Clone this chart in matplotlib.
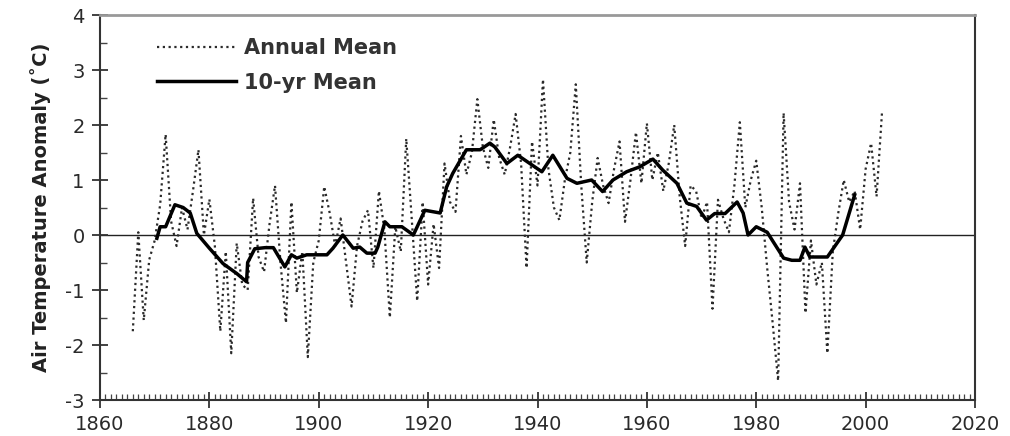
import numpy as np
import matplotlib
matplotlib.use('Agg')
import matplotlib.pyplot as plt
from matplotlib.ticker import MultipleLocator


# Annual mean air temperature anomaly (deg C)
years = list(range(1866, 2004))
annual_mean = [
    -1.75, 0.05, -1.55, -0.45, -0.1, 0.55, 1.83, 0.25, -0.2, 0.5,      # 1866-1875
    0.1, 0.8, 1.55, 0.0, 0.65, -0.2, -1.75, -0.3, -2.15, -0.15,         # 1876-1885
    -0.9, -1.0, 0.67, -0.4, -0.67, 0.2, 0.9, -0.5, -1.6, 0.6,           # 1886-1895
    -1.05, -0.3, -2.22, -0.5, -0.1, 0.88, 0.4, -0.2, 0.3, -0.5,         # 1896-1905
    -1.3, -0.2, 0.25, 0.45, -0.6, 0.8, 0.1, -1.5, 0.15, -0.3,           # 1906-1915
    1.75, 0.3, -1.2, 0.6, -0.9, 0.2, -0.6, 1.3, 0.6, 0.42,              # 1916-1925
    1.8, 1.1, 1.5, 2.47, 1.6, 1.22, 2.1, 1.4, 1.1, 1.6,                 # 1926-1935
    2.2, 1.3, -0.6, 1.7, 0.9, 2.83, 1.2, 0.5, 0.27, 1.0,                # 1936-1945
    1.5, 2.74, 0.9, -0.5, 0.6, 1.4, 0.9, 0.58, 1.2, 1.7,                # 1946-1955
    0.24, 1.0, 1.87, 0.94, 2.03, 1.0, 1.5, 0.8, 1.3, 2.0,               # 1956-1965
    0.7, -0.2, 0.9, 0.8, 0.3, 0.6, -1.34, 0.64, 0.3, 0.05,              # 1966-1975
    0.9, 2.05, 0.5, 1.0, 1.35, 0.5, -0.6, -1.6, -2.65, 2.22,            # 1976-1985
    0.6, 0.1, 0.94, -1.42, -0.1, -0.9, -0.5, -2.15, -0.3, 0.4,          # 1986-1995
    1.0, 0.6, 0.8, 0.1, 1.2, 1.67, 0.7, 2.24,                           # 1996-2003
]

# 10-yr running mean
decade_years = [1870.4, 1871, 1872, 1873.7, 1875.2, 1876.5, 1877.7, 1880, 1882.5, 1885,
                1886.8, 1887, 1888.3, 1890.2, 1891.7, 1893.8, 1895, 1896, 1897.8, 1901.5,
                1902.6, 1904.4, 1906.3, 1907.5, 1908.8, 1910.3, 1910.8, 1912.1, 1913, 1915.2,
                1917.3, 1919.4, 1922.2, 1923.4, 1924.5, 1927, 1929.5, 1931.3, 1932.2, 1934.4,
                1936.4, 1938.6, 1940.8, 1942.8, 1945.4, 1947.2, 1949.9, 1951.9, 1953.8, 1956.3,
                1958.7, 1961.1, 1962.9, 1965.5, 1967.3, 1969.1, 1970.9, 1972.4, 1974.3, 1976.5,
                1977.6, 1978.5, 1980, 1982, 1985, 1986.5, 1988, 1988.9, 1989.8, 1993,
                1995.8, 1998]
decade_mean = [-0.06, 0.15, 0.15, 0.55, 0.5, 0.4, 0.03, -0.24, -0.52, -0.7,
               -0.85, -0.5, -0.25, -0.23, -0.23, -0.58, -0.36, -0.42, -0.36, -0.36,
               -0.24, 0.0, -0.24, -0.22, -0.33, -0.33, -0.22, 0.24, 0.15, 0.15,
               0.0, 0.45, 0.4, 0.88, 1.12, 1.55, 1.55, 1.67, 1.6, 1.3,
               1.45, 1.3, 1.15, 1.45, 1.03, 0.94, 1.0, 0.79, 1.0, 1.15,
               1.24, 1.38, 1.18, 0.94, 0.58, 0.52, 0.27, 0.39, 0.39, 0.6,
               0.4, 0.0, 0.15, 0.05, -0.42, -0.46, -0.46, -0.22, -0.4, -0.4,
               0.0, 0.73]

x_ticks = [1860, 1880, 1900, 1920, 1940, 1960, 1980, 2000, 2020]
y_ticks = [-3, -2, -1, 0, 1, 2, 3, 4]

plt.rcParams['font.family'] = ['DejaVu Sans']
plt.rcParams['axes.unicode_minus'] = False

fig = plt.figure(figsize=(10.10, 4.36), dpi=100)
ax = fig.add_axes([100 / 1010, 36 / 436, 875 / 1010, 385 / 436])

# Zero reference line
ax.axhline(0, color='#222222', linewidth=1.0, zorder=1)

# Annual mean (dotted) and 10-yr mean (thick solid)
ax.plot(years, annual_mean, color='#2a2a2a', linewidth=1.6,
        linestyle=(0, (1, 1.6)), label='Annual Mean', zorder=2)
ax.plot(decade_years, decade_mean, color='black', linewidth=2.5,
        label='10-yr Mean', zorder=3)

ax.set_xlim(1860, 2020)
ax.set_ylim(-3, 4)
ax.set_xticks(x_ticks)
ax.set_yticks(y_ticks)
ax.xaxis.set_minor_locator(MultipleLocator(1))
ax.yaxis.set_minor_locator(MultipleLocator(0.5))

ax.tick_params(axis='both', which='major', direction='inout', length=12, width=1.3,
               colors='#333333', labelsize=14, labelcolor='#2a2a2a', pad=5)
ax.tick_params(axis='x', which='minor', direction='in', length=4, width=0.9,
               colors='#444444')
ax.tick_params(axis='y', which='minor', direction='in', length=5, width=1.0,
               colors='#444444')

for side in ['left', 'bottom', 'right']:
    ax.spines[side].set_color('#333333')
    ax.spines[side].set_linewidth(1.5)
ax.spines['top'].set_color('#999999')
ax.spines['top'].set_linewidth(2.0)

ax.set_ylabel('Air Temperature Anomaly (\u02daC)', fontsize=14, fontweight='bold',
              color='#222222', labelpad=10)

leg = ax.legend(loc='upper left', bbox_to_anchor=(0.065, 0.94), frameon=False,
                handlelength=3.8, handletextpad=0.4, labelspacing=0.7,
                borderpad=0, borderaxespad=0,
                prop={'size': 15, 'weight': 'bold'})
for txt in leg.get_texts():
    txt.set_color('#333333')

fig.savefig('out.png', dpi=100)
